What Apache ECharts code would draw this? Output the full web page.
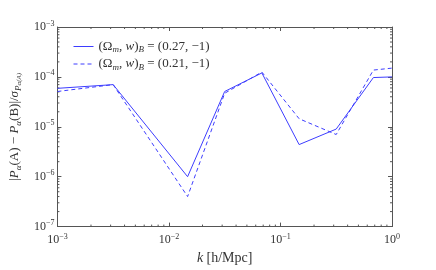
<!DOCTYPE html>
<html><head><meta charset="utf-8">
<script src="https://cdn.jsdelivr.net/npm/echarts@6/dist/echarts.min.js"></script>
<style>html,body{margin:0;padding:0;background:#fff}#c{width:436px;height:270px}</style>
</head><body><div id="c"></div>
<script>
var kValues = [0.001, 0.00316, 0.0147, 0.0316, 0.0681, 0.147, 0.316, 0.681, 1.0];
var solidValues = [5.9e-5, 7.0e-5, 1.0e-6, 5.1e-5, 1.2e-4, 4.4e-6, 9.0e-6, 9.7e-5, 1.0e-4];
var dashedValues = [5.1e-5, 7.0e-5, 4.0e-7, 4.7e-5, 1.25e-4, 1.45e-5, 7.0e-6, 1.37e-4, 1.5e-4];
var seriesNames = ['(Ω_m, w)_B = (0.27, −1)', '(Ω_m, w)_B = (0.21, −1)'];
var xMinorTicks = [0.002,0.003,0.004,0.005,0.006,0.007,0.008,0.009,0.02,0.03,0.04,0.05,0.06,0.07,0.08,0.09,0.2,0.3,0.4,0.5,0.6,0.7,0.8,0.9];
var yMinorTicks = [];
[1e-7,1e-6,1e-5,1e-4].forEach(function(d){for(var m=2;m<=9;m++){yMinorTicks.push(m*d);}});

var FONT = 'Liberation Serif';
var LINE = '#3d3dff';
var AX = '#555';
function pow10Label(v){
  var e = Math.round(Math.log10(v));
  return '{b|10}{s|' + (e < 0 ? '−' + (-e) : e) + '}';
}
var tickRich = {
  b: {fontFamily: FONT, fontSize: 12, color: '#333', lineHeight: 15},
  s: {fontFamily: FONT, fontSize: 8, color: '#333', verticalAlign: 'top', lineHeight: 7}
};
var chart = echarts.init(document.getElementById('c'));
function mkPair(v, isX){ return isX ? [v, 1e-7] : [1e-3, v]; }
chart.setOption({
  animation: false,
  grid: {left: 54, right: 44, top: 27, bottom: 28},
  legend: {
    left: 68, top: 35, orient: 'vertical', itemGap: 3,
    itemWidth: 20, itemHeight: 12,
    itemStyle: {opacity: 0},
    lineStyle: {width: 1},
    data: seriesNames,
    formatter: function(n){
      return n.indexOf('0.27') >= 0 ?
        '{t|(Ω}{sub|m}{t|, }{i|w}{t|)}{sub|B}{t| = (0.27, −1)}' :
        '{t|(Ω}{sub|m}{t|, }{i|w}{t|)}{sub|B}{t| = (0.21, −1)}';
    },
    textStyle: {
      rich: {
        t: {fontFamily: FONT, fontSize: 13, color: '#333', lineHeight: 16},
        i: {fontFamily: FONT, fontSize: 13, color: '#333', fontStyle: 'italic', lineHeight: 16},
        sub: {fontFamily: FONT, fontSize: 9, color: '#333', fontStyle: 'italic', verticalAlign: 'bottom', lineHeight: 6}
      }
    }
  },
  xAxis: [{
    type: 'log', logBase: 10, min: 0.001, max: 1, splitNumber: 3,
    axisLine: {show: true, onZero: false, lineStyle: {color: AX, width: 1}},
    axisTick: {show: true, inside: true, length: 4, lineStyle: {color: AX}},
    splitLine: {show: false},
    axisLabel: {formatter: pow10Label, rich: tickRich, margin: 6},
    name: '{i|k} {t|[h/Mpc]}', nameLocation: 'middle', nameGap: 22,
    nameTextStyle: {rich: {
      i: {fontFamily: FONT, fontSize: 14, fontStyle: 'italic', color: '#333'},
      t: {fontFamily: FONT, fontSize: 14, color: '#333'}
    }}
  }, {
    type: 'log', logBase: 10, min: 0.001, max: 1, splitNumber: 3, position: 'top',
    axisLine: {show: true, onZero: false, lineStyle: {color: AX, width: 1}},
    axisTick: {show: true, inside: true, length: 4, lineStyle: {color: AX}},
    splitLine: {show: false}, axisLabel: {show: false}
  }],
  yAxis: [{
    type: 'log', logBase: 10, min: 1e-7, max: 1e-3, splitNumber: 4,
    axisLine: {show: true, onZero: false, lineStyle: {color: AX, width: 1}},
    axisTick: {show: true, inside: true, length: 4, lineStyle: {color: AX}},
    splitLine: {show: false},
    axisLabel: {formatter: pow10Label, rich: tickRich, margin: 3},
    name: '{t||}{i|P}{sub|α}{t|(A) − }{i|P}{sub|α}{t|(B)|/}{i|σ}{sub|P}{subsub|α(A)}',
    nameLocation: 'middle', nameGap: 34, nameRotate: 90,
    nameTextStyle: {rich: {
      t: {fontFamily: FONT, fontSize: 13, color: '#333', lineHeight: 17},
      i: {fontFamily: FONT, fontSize: 13, fontStyle: 'italic', color: '#333', lineHeight: 17},
      sub: {fontFamily: FONT, fontSize: 9, fontStyle: 'italic', color: '#333', verticalAlign: 'bottom', lineHeight: 6},
      subsub: {fontFamily: FONT, fontSize: 7, fontStyle: 'italic', color: '#333', verticalAlign: 'bottom', lineHeight: 2}
    }}
  }, {
    type: 'log', logBase: 10, min: 1e-7, max: 1e-3, splitNumber: 4, position: 'right',
    axisLine: {show: true, onZero: false, lineStyle: {color: AX, width: 1}},
    axisTick: {show: true, inside: true, length: 4, lineStyle: {color: AX}},
    splitLine: {show: false}, axisLabel: {show: false}
  }],
  series: [{
    name: seriesNames[0], type: 'line', symbol: 'none', silent: true,
    data: kValues.map(function(k,i){return [k, solidValues[i]];}),
    lineStyle: {color: LINE, width: 1, type: 'solid'}, itemStyle: {color: LINE}
  }, {
    name: seriesNames[1], type: 'line', symbol: 'none', silent: true,
    data: kValues.map(function(k,i){return [k, dashedValues[i]];}),
    lineStyle: {color: LINE, width: 1, type: [4, 3]}, itemStyle: {color: LINE}
  }, {
    type: 'custom', silent: true, clip: false,
    data: xMinorTicks.map(function(v){return mkPair(v, true);}),
    renderItem: function(params, api){
      var b = api.coord([api.value(0), 1e-7]);
      var t = api.coord([api.value(0), 1e-3]);
      return {type: 'group', children: [
        {type: 'line', shape: {x1: b[0], y1: b[1], x2: b[0], y2: b[1]-2}, style: {stroke: AX, lineWidth: 1}},
        {type: 'line', shape: {x1: t[0], y1: t[1], x2: t[0], y2: t[1]+2}, style: {stroke: AX, lineWidth: 1}}
      ]};
    }
  }, {
    type: 'custom', silent: true, clip: false,
    data: yMinorTicks.map(function(v){return mkPair(v, false);}),
    renderItem: function(params, api){
      var l = api.coord([0.001, api.value(1)]);
      var r = api.coord([1, api.value(1)]);
      return {type: 'group', children: [
        {type: 'line', shape: {x1: l[0], y1: l[1], x2: l[0]+2, y2: l[1]}, style: {stroke: AX, lineWidth: 1}},
        {type: 'line', shape: {x1: r[0], y1: r[1], x2: r[0]-2, y2: r[1]}, style: {stroke: AX, lineWidth: 1}}
      ]};
    }
  }]
});
</script>
</body></html>
